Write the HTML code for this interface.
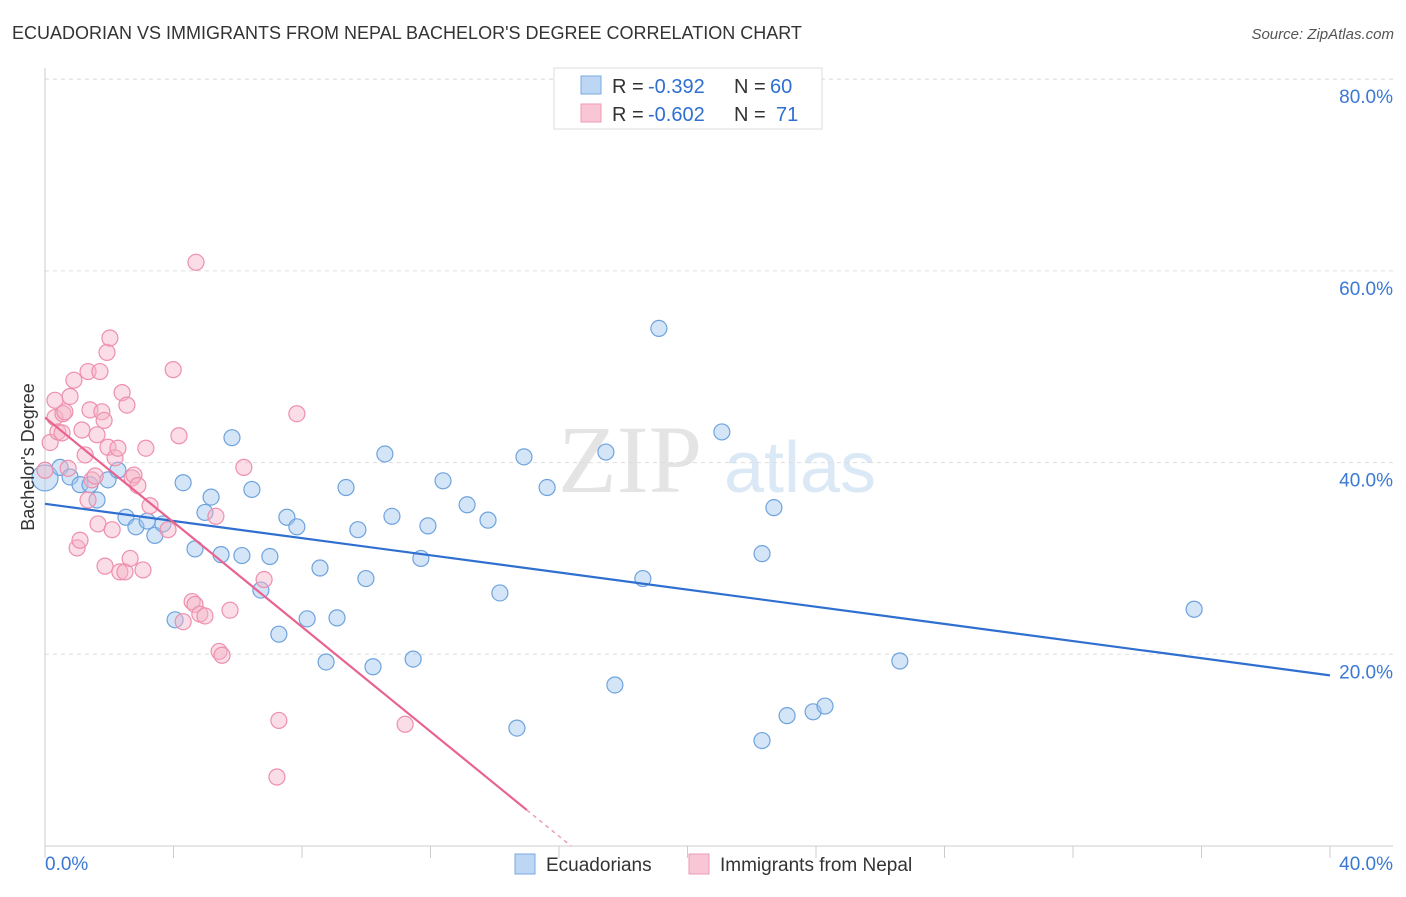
<!DOCTYPE html>
<html><head><meta charset="utf-8"><style>
body{margin:0;background:#fff;font-family:"Liberation Sans",sans-serif}
</style></head><body>
<svg width="1406" height="892" xmlns="http://www.w3.org/2000/svg" id="svg">
<text x="12" y="39" font-size="18" fill="#333">ECUADORIAN VS IMMIGRANTS FROM NEPAL BACHELOR'S DEGREE CORRELATION CHART</text>
<text x="1394" y="39" font-size="15" fill="#555" font-style="italic" text-anchor="end">Source: ZipAtlas.com</text>
<text x="630" y="492" font-size="96" fill="#e4e4e4" font-family="Liberation Serif" text-anchor="middle">ZIP</text>
<text x="800" y="492" font-size="72" fill="#dbe8f5" text-anchor="middle">atlas</text>
<g id="grid"></g>
<g id="axes"></g>
<g id="marks"></g>
<text transform="translate(34,457) rotate(-90)" font-size="18" fill="#333" text-anchor="middle">Bachelor's Degree</text>
<g>
<rect x="554" y="68" width="268" height="61" fill="#fff" stroke="#ddd"/>
<rect x="581" y="76" width="20" height="18" fill="#bcd6f4" stroke="#7aaae0"/>
<rect x="581" y="104" width="20" height="18" fill="#f9c6d6" stroke="#ee9ab5"/>
<text x="612" y="93" font-size="20" fill="#333">R =</text>
<text x="648" y="93" font-size="20" fill="#2f6fd0">-0.392</text>
<text x="734" y="93" font-size="20" fill="#333">N =</text>
<text x="770" y="93" font-size="20" fill="#2f6fd0">60</text>
<text x="612" y="121" font-size="20" fill="#333">R =</text>
<text x="648" y="121" font-size="20" fill="#2f6fd0">-0.602</text>
<text x="734" y="121" font-size="20" fill="#333">N =</text>
<text x="776" y="121" font-size="20" fill="#2f6fd0">71</text>
</g>
<g>
<rect x="515" y="854" width="20" height="20" fill="#bcd6f4" stroke="#7aaae0"/>
<text x="546" y="871" font-size="19" fill="#333">Ecuadorians</text>
<rect x="689" y="854" width="20" height="20" fill="#f9c6d6" stroke="#ee9ab5"/>
<text x="720" y="871" font-size="19" fill="#333">Immigrants from Nepal</text>
</g>
</svg>
<script>
const yTicks=[20,40,60,80];
const yTickLabels=["20.0%","40.0%","60.0%","80.0%"];
const xTickLabels=["0.0%","40.0%"];
const blueX=[0,0.47,0.78,1.09,1.40,1.62,1.96,2.27,2.52,2.83,3.18,3.42,3.67,4.05,4.30,4.67,4.98,5.17,5.48,5.82,6.13,6.44,6.72,7.00,7.28,7.53,7.84,8.16,8.56,8.75,9.09,9.37,9.74,9.99,10.21,10.58,10.80,11.46,11.70,11.92,12.39,13.14,13.79,14.16,14.69,14.91,15.63,17.46,17.74,18.61,19.11,21.07,22.32,22.32,22.69,23.10,23.91,24.28,26.61,35.77];
const blueY=[38.4,39.5,38.5,37.7,37.7,36.1,38.2,39.2,34.3,33.3,33.9,32.4,33.6,23.6,37.9,31.0,34.8,36.4,30.4,42.6,30.3,37.2,26.7,30.2,22.1,34.3,33.3,23.7,29.0,19.2,23.8,37.4,33.0,27.9,18.7,40.9,34.4,19.5,30.0,33.4,38.1,35.6,34.0,26.4,12.3,40.6,37.4,41.1,16.8,27.9,54.0,43.2,11.0,30.5,35.3,13.6,14.0,14.6,19.3,24.7];
const pinkX=[0,0.16,0.31,0.31,0.40,0.53,0.56,0.62,0.72,0.78,0.90,1.00,1.09,1.15,1.25,1.34,1.34,1.40,1.46,1.56,1.62,1.65,1.71,1.77,1.84,1.87,1.93,1.96,2.02,2.09,2.18,2.27,2.33,2.40,2.49,2.55,2.65,2.71,2.77,2.89,3.05,3.14,3.27,3.83,3.99,4.17,4.30,4.58,4.67,4.70,4.82,4.98,5.32,5.42,5.51,5.76,6.19,6.82,7.28,7.22,7.84,11.21];
const pinkY=[39.2,42.1,44.7,46.5,43.2,43.1,45.1,45.3,39.4,46.9,48.6,31.1,31.9,43.4,40.8,49.5,36.1,45.5,38.2,38.6,42.9,33.6,49.5,45.3,44.4,29.2,51.5,41.6,53.0,33.0,40.5,41.5,28.6,47.3,28.6,46.0,30.0,38.4,38.7,37.6,28.8,41.5,35.5,33.0,49.7,42.8,23.4,25.5,25.2,60.9,24.2,24.0,34.4,20.3,19.9,24.6,39.5,27.8,13.1,7.2,45.1,12.7];
const blueLine=[35.7,17.8];
const pinkLine=[44.7,-2.73];
const NS="http://www.w3.org/2000/svg";
const X=v=>45+v*32.125, Y=v=>846-v*9.585;
function mk(t,a,p){const e=document.createElementNS(NS,t);for(const k in a)e.setAttribute(k,a[k]);p.appendChild(e);return e;}
const grid=document.getElementById('grid'),axes=document.getElementById('axes'),marks=document.getElementById('marks');
yTicks.forEach((t,i)=>{
 const l=mk('line',{x1:45,x2:1393,y1:Y(t),y2:Y(t),stroke:'#ddd','stroke-dasharray':'4,4'},grid);
 
 
 const tx=mk('text',{x:1393,y:Y(t)+24,'font-size':19,fill:'#3a78d4','text-anchor':'end'},axes);
 tx.textContent=yTickLabels[i];
 
 
});
mk('line',{x1:45,x2:1393,y1:79,y2:79,stroke:'#ddd','stroke-dasharray':'4,4'},grid);
mk('line',{x1:45,x2:45,y1:68,y2:846,stroke:'#ccc'},axes);
mk('line',{x1:45,x2:1393,y1:846,y2:846,stroke:'#ccc'},axes);
for(let i=0;i<=10;i++){mk('line',{x1:X(i*4),x2:X(i*4),y1:846,y2:858,stroke:'#ccc'},axes);}
[[0,'start',45],[40,'end',1393]].forEach((d,i)=>{
 const tx=mk('text',{x:d[2],y:870,'font-size':19,fill:'#3a78d4','text-anchor':d[1]},axes);
 tx.textContent=xTickLabels[i];
 
 
});
blueX.forEach((x,i)=>{
 const c=mk('circle',{cx:X(x),cy:Y(blueY[i]),r:x===0?13:8,fill:'rgba(158,197,238,0.45)',stroke:'#6fa3dd','stroke-width':1.2},marks);
 
 
});
pinkX.forEach((x,i)=>{
 const c=mk('circle',{cx:X(x),cy:Y(pinkY[i]),r:8,fill:'rgba(245,179,200,0.45)',stroke:'#ee8fad','stroke-width':1.2},marks);
 
 
});
const bl=mk('line',{x1:X(0),y1:Y(blueLine[0]),x2:X(40),y2:Y(blueLine[1]),stroke:'#2f6fd0','stroke-width':2.2},marks);


const xe=15.0;
const pl=mk('line',{x1:X(0),y1:Y(pinkLine[0]),x2:X(xe),y2:Y(pinkLine[0]+pinkLine[1]*xe),stroke:'#e8638f','stroke-width':2.2},marks);


const x0=-pinkLine[0]/pinkLine[1];
const pd=mk('line',{x1:X(xe),y1:Y(pinkLine[0]+pinkLine[1]*xe),x2:X(x0),y2:Y(0),stroke:'#e8a0b8','stroke-width':1.5,'stroke-dasharray':'4,4'},marks);


</script>
</body></html>
